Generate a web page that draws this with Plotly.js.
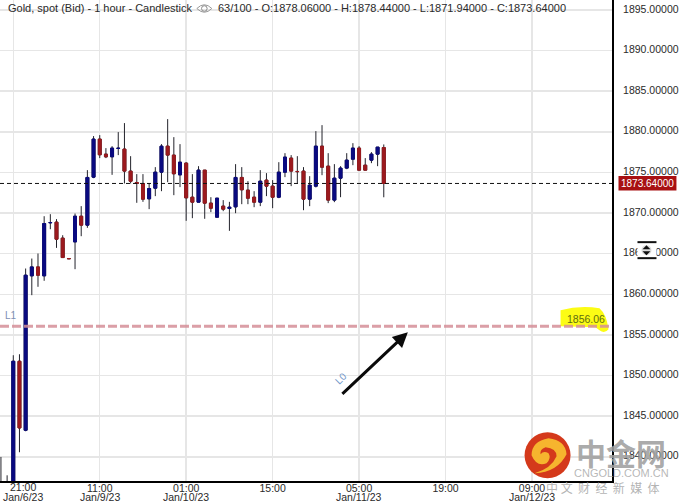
<!DOCTYPE html>
<html>
<head>
<meta charset="utf-8">
<script src="https://cdn.plot.ly/plotly-3.0.1.min.js"></script>
<style>html,body{margin:0;padding:0;background:#fff}#c{width:682px;height:504px}</style>
</head>
<body>
<div id="c"></div>
<script>
const opens = [1835.5,1835.5,1836,1851.76,1843.27,1862.27,1863.37,1862.27,1868.80,1868.88,1866.91,1864.40,1866.45,1869.61,1868.51,1874.42,1879.10,1877.25,1876.92,1877.95,1877.87,1875.16,1873.76,1873.64,1871.75,1873.06,1875.03,1878.23,1877.13,1874.70,1876.14,1871.95,1871.34,1875.28,1871.22,1869.49,1870.85,1870.56,1870.76,1874.38,1872.82,1871.95,1871.34,1874.05,1873.31,1871.95,1875.03,1876.76,1875.12,1875.16,1871.71,1873.31,1878.23,1875.77,1871.59,1874.29,1875.53,1876.63,1877.99,1875.89,1876.51,1877.25,1878.06];
const highs = [1839.98,1837.72,1852.50,1852.62,1863.17,1864.40,1865.02,1869.61,1869.86,1869.25,1867.27,1864.40,1869.94,1870.85,1875.28,1879.47,1879.59,1877.99,1878.23,1879.96,1881.07,1877.00,1874.79,1874.79,1873.64,1875.65,1878.48,1881.56,1879.34,1878.48,1876.26,1874.79,1875.77,1875.28,1871.95,1871.83,1871.59,1871.38,1876.02,1875.65,1873.92,1872.69,1875.28,1874.91,1874.05,1876.26,1877.37,1877.13,1877.00,1875.65,1874.54,1880.08,1880.82,1877.37,1876.02,1875.77,1877.37,1878.60,1878.23,1876.76,1877.50,1878.11,1878.44];
const lows = [1835,1835,1835,1840.56,1843.14,1859.89,1860.92,1861.66,1868.01,1865.71,1864.52,1864.38,1863.09,1867.15,1868.18,1874.29,1876.76,1876.76,1874.70,1877.13,1873.64,1873.64,1871.26,1871.38,1870.48,1872.08,1872.69,1873.80,1872.20,1873.19,1869.04,1869.37,1871.34,1869.29,1870.11,1869.49,1870.23,1867.81,1869.98,1871.09,1871.09,1870.72,1870.85,1872.08,1870.60,1871.83,1874.42,1873.31,1873.68,1870.35,1870.85,1873.15,1874.66,1871.22,1871.34,1871.95,1875.40,1875.89,1875.28,1875.28,1876.14,1875.77,1871.94];
const closes = [1836.5,1836.5,1851.76,1843.55,1862.35,1863.37,1862.35,1868.71,1868.83,1866.78,1864.52,1864.38,1869.61,1868.51,1874.38,1879.10,1877.17,1876.92,1877.99,1877.97,1875.16,1873.92,1873.64,1871.71,1873.02,1875.03,1878.23,1877.13,1874.83,1876.26,1871.87,1871.34,1875.28,1871.22,1870.60,1871.83,1870.48,1870.72,1874.38,1872.86,1871.83,1871.34,1873.92,1873.31,1871.95,1875.03,1876.88,1875.16,1875.10,1871.71,1873.43,1878.23,1875.65,1871.59,1874.29,1875.53,1876.51,1877.99,1875.28,1875.28,1877.25,1878.11,1873.64];
const bars = opens.map((_, i) => i - 2);
const tickBars = [0, 14, 28, 42, 56, 70, 84];
const tickTimes = ["21:00", "11:00", "01:00", "15:00", "05:00", "19:00", "09:00"];
const tickDates = ["Jan/6/23", "Jan/9/23", "Jan/10/23", "", "Jan/11/23", "", "Jan/12/23"];
const priceTicks = [1840,1845,1850,1855,1860,1865,1870,1875,1880,1885,1890,1895];
const lastClose = 1873.64;
const levelL1 = 1856.06;
const titleLeft = "Gold, spot (Bid) - 1 hour - Candlestick";
const titleRight = "63/100 - O:1878.06000 - H:1878.44000 - L:1871.94000 - C:1873.64000";

const PW = 612.5, PH = 480.7;
const X = p => p / PW, Y = p => 1 - p / PH;
const FONT = "Liberation Sans, Arial, sans-serif";
const BLUE = "#0a0a80", RED = "#9c1a1e", WICK = "#23232b";

const wicks = {
  type: "candlestick", x: bars, open: opens, high: highs, low: lows, close: closes,
  increasing: {line: {color: WICK, width: 1}, fillcolor: WICK},
  decreasing: {line: {color: WICK, width: 1}, fillcolor: WICK},
  whiskerwidth: 0, hoverinfo: "skip", showlegend: false
};
const bodies = {
  type: "candlestick", x: bars, open: opens, close: closes,
  high: opens.map((o, i) => Math.max(o, closes[i])),
  low: opens.map((o, i) => Math.min(o, closes[i])),
  increasing: {line: {color: BLUE, width: 1}, fillcolor: BLUE},
  decreasing: {line: {color: RED, width: 1}, fillcolor: RED},
  whiskerwidth: 0, hoverinfo: "skip", showlegend: false
};

const pxShape = (o) => Object.assign({xref: "paper", yref: "paper", layer: "above"}, o);
const rect = (x0, y0, x1, y1, fill) => pxShape({type: "rect", x0: X(x0), x1: X(x1), y0: Y(y0), y1: Y(y1), fillcolor: fill, line: {width: 0}});
const poly = (pts, fill, line) => pxShape({type: "path", path: pts.replace(/(-?[\d.]+),(-?[\d.]+)/g, (m, a, b) => X(+a) + "," + Y(+b)), fillcolor: fill || "rgba(0,0,0,0)", line: line || {width: 0}});
const circ = (cx, cy, r, fill, line) => pxShape({type: "circle", x0: X(cx - r), x1: X(cx + r), y0: Y(cy + r), y1: Y(cy - r), fillcolor: fill, line: line || {width: 0}});

const shapes = [
  poly("M 561,310 Q 580,305 600,308 Q 607,314 609,329 Q 605,334 600,330 L 596,327 L 561,326 Z", "#fcfc14"),
  {type: "line", xref: "paper", yref: "y", x0: 0, x1: 1, y0: lastClose, y1: lastClose, layer: "above", line: {color: "#111", width: 1, dash: "4px,3px"}},
  {type: "line", xref: "paper", yref: "y", x0: 0, x1: 1, y0: levelL1, y1: levelL1, layer: "above", opacity: 0.85, line: {color: "#d58f98", width: 3, dash: "9px,3px"}},
  rect(619, 176, 677, 190.5, "#a81012"),
  rect(638, 242, 657, 258, "#ffffff"),
  rect(638, 241, 657, 243, "#111111"),
  rect(638, 257, 657, 259, "#111111"),
  circ(647, 250, 5, "#dddddd"),
  poly("M 643,249 L 647,245 L 651,249 Z", "#111111"),
  poly("M 643,251 L 647,255 L 651,251 Z", "#111111"),
  poly("M 197,8.5 Q 204.5,1 212,8.5 Q 204.5,16 197,8.5 Z", "rgba(255,255,255,0)", {color: "#9a9a9a", width: 1}),
  circ(204.5, 8.5, 2.8, "rgba(255,255,255,0)", {color: "#8a8a8a", width: 1}),
  circ(548, 455, 23, "#d4391b"),
  poly("M 535,473 Q 558,472 567,454 Q 566,440 549,438 Q 532,441 532,455 Q 537,467 547,463 Q 552,458 549,453 Q 544,450 541,454 Q 540,449 546,447 Q 557,448 557,456 Q 552,468 535,473 Z", "#f6b52e")
];

const ann = (x, y, text, o) => Object.assign({xref: "paper", yref: "paper", x: X(x), y: Y(y), text, showarrow: false, xanchor: "center", yanchor: "middle", borderpad: 0, font: {family: FONT, size: 10.5, color: "#2a2a2a"}}, o || {});

const annotations = [
  ann(7, 8, titleLeft, {xanchor: "left", font: {family: FONT, size: 11, color: "#2a2a2a"}}),
  ann(217, 8, titleRight, {xanchor: "left", font: {family: FONT, size: 11, color: "#2a2a2a"}}),
  ann(648, 183, "1873.64000", {font: {family: FONT, size: 10, color: "#ffffff"}}),
  ann(586, 319, "1856.06", {font: {family: FONT, size: 10.5, color: "#5f6d10"}}),
  ann(11, 315, "L1", {font: {family: FONT, size: 10, color: "#7d8fb5"}}),
  ann(341, 378, "L0", {textangle: -45, font: {family: FONT, size: 10, color: "#6f95c8"}}),
  ann(23, 487, tickTimes[0]),
  {xref: "x", yref: "y", x: 63.9, y: 1855.33, ax: -67, ay: 63, axref: "pixel", ayref: "pixel", text: "", showarrow: true, arrowhead: 2, arrowsize: 1, arrowwidth: 3, arrowcolor: "#0a0a0a"},
  ann(622, 452, "中金网", {font: {family: "Noto Sans CJK SC", size: 30, color: "rgba(160,160,160,0.9)", weight: 700}}),
  ann(622, 473, "CNGOLD.COM.CN", {font: {family: FONT, size: 11, color: "rgba(175,175,175,0.9)"}}),
  ann(603, 487, "中 文  财  经  新  媒  体", {font: {family: "Noto Sans CJK SC", size: 12, color: "rgba(170,170,170,0.9)"}})
];
tickDates.forEach((d, i) => {
  if (d) annotations.push(ann(i === 0 ? 23 : 13.3 + 6.18 * tickBars[i], 497, d));
});

const layout = {
  width: 682, height: 504,
  paper_bgcolor: "#fff", plot_bgcolor: "#fff",
  margin: {l: 0, r: 69.5, t: 0, b: 23.3, pad: 0},
  showlegend: false,
  boxgap: 0.32,
  dragmode: false,
  font: {family: FONT, size: 10.5, color: "#2a2a2a"},
  xaxis: {
    type: "linear", range: [-2.152, 96.96], rangeslider: {visible: false},
    tickmode: "array", tickvals: tickBars,
    ticktext: tickTimes.map((t, i) => i === 0 ? "" : t),
    showgrid: true, gridcolor: "#e6e6e6", gridwidth: 1.5,
    zeroline: false, showline: true, linecolor: "#000", linewidth: 2,
    ticks: "", ticklen: 0, automargin: false, ticklabelstandoff: -4,
    tickfont: {family: FONT, size: 10.5, color: "#2a2a2a"}
  },
  yaxis: {
    side: "right", range: [1837.02, 1896.22], type: "linear",
    tickmode: "array", tickvals: priceTicks, tickformat: ".5f",
    showgrid: true, gridcolor: "#e6e6e6", gridwidth: 1.5,
    zeroline: false, showline: true, linecolor: "#000", linewidth: 2,
    ticks: "", automargin: false, ticklabelstandoff: 7, ticklabelshift: -1,
    tickfont: {family: FONT, size: 10.5, color: "#2a2a2a"}
  },
  shapes, annotations
};
Plotly.newPlot("c", [wicks, bodies], layout, {displayModeBar: false, staticPlot: true});
</script>
</body>
</html>
